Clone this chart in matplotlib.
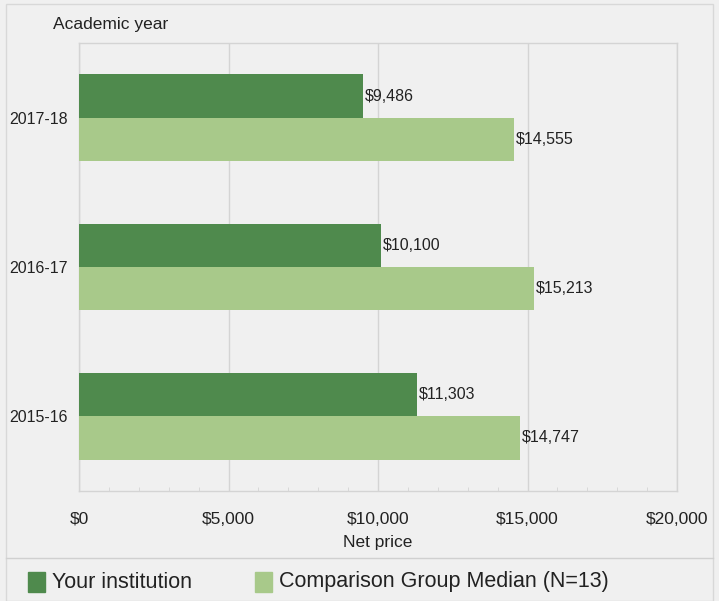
import numpy as np
import matplotlib.pyplot as plt
from matplotlib.patches import Rectangle
from matplotlib.ticker import FuncFormatter, MultipleLocator

years = ['2017-18', '2016-17', '2015-16']
institution = [9486, 10100, 11303]
comparison = [14555, 15213, 14747]
series_names = ['Your institution', 'Comparison Group Median (N=13)']

dark = '#4f8a4d'
light = '#a8c98a'
bg = '#f0f0f0'
grid_col = '#d4d4d4'
txt = '#222222'

plt.rcParams['font.family'] = ['Liberation Sans Narrow', 'Liberation Sans', 'DejaVu Sans']

fig = plt.figure(figsize=(7.19, 6.01), dpi=100, facecolor=bg)
W, H = 719, 601
ax = fig.add_axes([79 / W, 1 - 491 / H, (677 - 79) / W, (491 - 43) / H])
ax.set_facecolor(bg)

y = np.arange(len(years))
h = 0.29
ax.barh(y - h / 2, institution, height=h, color=dark, zorder=3)
ax.barh(y + h / 2, comparison, height=h, color=light, zorder=3)

for yi, v in zip(y, institution):
    ax.text(v + 60, yi - h / 2, f'${v:,}', va='center', ha='left', fontsize=11.5, color=txt)
for yi, v in zip(y, comparison):
    ax.text(v + 60, yi + h / 2, f'${v:,}', va='center', ha='left', fontsize=11.5, color=txt)

ax.set_xlim(0, 20000)
ax.set_ylim(2.5, -0.5)
ax.set_yticks(y)
ax.set_yticklabels(years, fontsize=11.5, color=txt)
ax.xaxis.set_major_locator(MultipleLocator(5000))
ax.xaxis.set_minor_locator(MultipleLocator(1000))
ax.xaxis.set_major_formatter(FuncFormatter(lambda v, p: f'${v:,.0f}'))
ax.tick_params(axis='x', which='major', length=0, pad=15, labelsize=12.5, labelcolor=txt)
ax.tick_params(axis='x', which='minor', length=3, direction='in', color=grid_col)
ax.tick_params(axis='y', length=0, pad=8)
ax.grid(axis='x', color=grid_col, linewidth=1, zorder=0)
for s in ax.spines.values():
    s.set_color(grid_col)
    s.set_linewidth(1)
ax.set_xlabel('Net price', fontsize=12.5, color=txt, labelpad=6)

fig.text(53 / W, 1 - 24 / H, 'Academic year', fontsize=12.5, color=txt, va='center', ha='left')

# outer frame and legend divider
fig.patches.append(Rectangle((6 / W, 0), (W - 12) / W, 1 - 4 / H, transform=fig.transFigure,
                             fill=False, edgecolor='#d8d8d8', linewidth=1))
fig.lines.append(plt.Line2D([6 / W, 1 - 6 / W], [1 - 558 / H, 1 - 558 / H],
                            transform=fig.transFigure, color='#d0d0d0', linewidth=1))

# legend
for x0, col, name in [(28, dark, series_names[0]), (255, light, series_names[1])]:
    fig.patches.append(Rectangle((x0 / W, 1 - 592 / H), 17 / W, 20 / H,
                                 transform=fig.transFigure, color=col))
    fig.text((x0 + 24) / W, 1 - 582 / H, name, fontsize=15.5, color=txt, va='center', ha='left')

fig.savefig('out.png', dpi=100, facecolor=bg)
